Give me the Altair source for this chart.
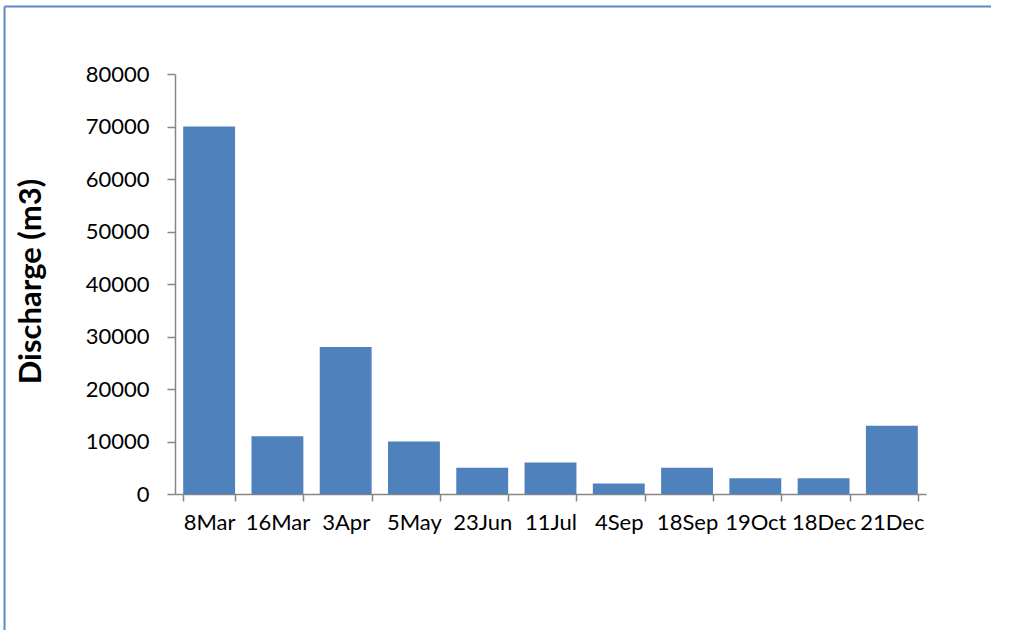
import altair as alt
import pandas as pd

# Sampling dates and the discharge measured on each
dates = ["8Mar", "16Mar", "3Apr", "5May", "23Jun", "11Jul",
         "4Sep", "18Sep", "19Oct", "18Dec", "21Dec"]
discharge = [70000, 11000, 28000, 10000, 5000, 6000,
             2000, 5000, 3000, 3000, 13000]
y_ticks = [0, 10000, 20000, 30000, 40000, 50000, 60000, 70000, 80000]

df = pd.DataFrame({"date": dates, "discharge": discharge})

FONT = "Lato"
AXIS_GREY = "#868686"
BAR_BLUE = "#4F81BD"
FRAME_BLUE = "#5B88C6"

PLOT_W, PLOT_H = 751, 420
PAD_L, PAD_T = 175, 74
TOTAL_W, TOTAL_H = 1011, 630

bars = alt.Chart(df).mark_bar(color=BAR_BLUE).encode(
    x=alt.X(
        "date:N",
        sort=dates,
        title=None,
        scale=alt.Scale(paddingInner=0.24, paddingOuter=0.12),
        axis=alt.Axis(
            labelAngle=0,
            labelFont=FONT,
            labelFontSize=22,
            labelColor="#000000",
            labelPadding=11,
            tickBand="extent",
            tickSize=7,
            tickColor=AXIS_GREY,
            tickWidth=1.5,
            domainColor=AXIS_GREY,
            domainWidth=1.5,
        ),
    ),
    y=alt.Y(
        "discharge:Q",
        scale=alt.Scale(domain=[0, 80000], nice=False),
        axis=alt.Axis(
            values=y_ticks,
            format="d",
            grid=False,
            title="Discharge (m3)",
            titleFont=FONT,
            titleFontSize=31,
            titleFontWeight="bold",
            titleColor="#000000",
            titleAngle=270,
            titleAlign="center",
            titleBaseline="middle",
            titleX=-144,
            titleY=207,
            labelFont=FONT,
            labelFontSize=22,
            labelColor="#000000",
            labelPadding=18,
            tickSize=8,
            tickColor=AXIS_GREY,
            tickWidth=1.5,
            domainColor=AXIS_GREY,
            domainWidth=1.5,
        ),
    ),
)

# Chart outline: left and top edges
one_row = alt.Data(values=[{}])
frame_left = alt.Chart(one_row).mark_rule(
    color=FRAME_BLUE, strokeWidth=2, clip=False
).encode(
    x=alt.value(4.5 - PAD_L),
    y=alt.value(6.5 - PAD_T),
    y2=alt.value(TOTAL_H - PAD_T),
)
frame_top = alt.Chart(one_row).mark_rule(
    color=FRAME_BLUE, strokeWidth=2, clip=False
).encode(
    x=alt.value(4.5 - PAD_L),
    x2=alt.value(TOTAL_W - PAD_L - 20),
    y=alt.value(6.5 - PAD_T),
)

chart = alt.layer(bars, frame_left, frame_top).properties(
    width=PLOT_W,
    height=PLOT_H,
    autosize=alt.AutoSizeParams(type="none"),
    padding={"left": PAD_L, "top": PAD_T,
             "right": TOTAL_W - PAD_L - PLOT_W,
             "bottom": TOTAL_H - PAD_T - PLOT_H},
    background="white",
).configure_view(stroke=None)

chart.save("out.html", embed_options={"renderer": "svg", "actions": False})
